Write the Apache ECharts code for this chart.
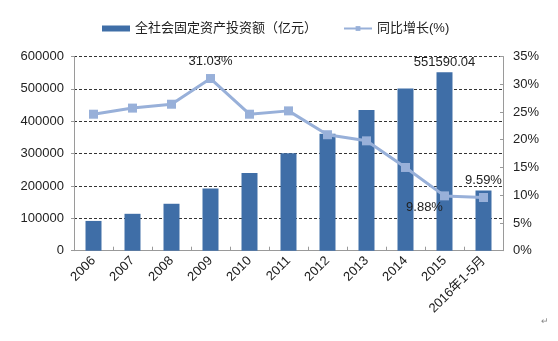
<!DOCTYPE html>
<html>
<head>
<meta charset="utf-8">
<script src="https://cdn.jsdelivr.net/npm/echarts@6/dist/echarts.min.js"></script>
<style>
  html, body { margin: 0; padding: 0; background: #fff; }
  #chart { width: 558px; height: 341px; }
</style>
</head>
<body>
<div id="chart"></div>
<script>
// Categories and series values
const categories = ['2006', '2007', '2008', '2009', '2010', '2011', '2012', '2013', '2014', '2015', '2016年1-5月'];
const investment = [92000, 114000, 145000, 192000, 240000, 301000, 361000, 435000, 501000, 551590.04, 186000];
const growth = [24.6, 25.7, 26.4, 31.03, 24.6, 25.2, 20.9, 19.8, 15.0, 9.88, 9.59];
const leftTicks = [0, 100000, 200000, 300000, 400000, 500000, 600000];
const rightTicks = [0, 5, 10, 15, 20, 25, 30, 35];

// Which points carry a value label, and where
const barLabelIdx = [9];
const lineLabelPos = { 3: 'top', 9: 'bottomLeft', 10: 'top' };

const font = 'Arial, "Liberation Sans", "Noto Sans CJK SC", sans-serif';
const chart = echarts.init(document.getElementById('chart'));

chart.setOption({
  animation: false,
  legend: {
    top: 17,
    left: 97,
    itemGap: 26,
    itemWidth: 28,
    itemHeight: 6,
    textStyle: { fontFamily: font, fontSize: 13, color: '#222' },
    data: [
      { name: '全社会固定资产投资额（亿元）', icon: 'rect' },
      { name: '同比增长(%)' }
    ]
  },
  grid: { left: 74, right: 55, top: 56.5, bottom: 90.3 },
  xAxis: {
    type: 'category',
    data: categories,
    axisLine: { lineStyle: { color: '#9a9a9a', width: 1 } },
    axisTick: { show: true, inside: true, length: 4, lineStyle: { color: '#9a9a9a' } },
    axisLabel: { rotate: 45, fontFamily: font, fontSize: 13, color: '#1a1a1a', margin: 8 }
  },
  yAxis: [
    {
      type: 'value',
      min: 0, max: leftTicks[leftTicks.length - 1], interval: 100000,
      axisLine: { show: true, lineStyle: { color: '#9a9a9a' } },
      axisTick: { show: true, length: 3, lineStyle: { color: '#9a9a9a' } },
      axisLabel: { formatter: v => String(v), fontFamily: font, fontSize: 13, color: '#222', margin: 10 },
      splitLine: { show: true, lineStyle: { color: '#333', type: [3, 2], width: 1 } }
    },
    {
      type: 'value',
      min: 0, max: rightTicks[rightTicks.length - 1], interval: 5,
      axisLine: { show: true, lineStyle: { color: '#9a9a9a' } },
      axisTick: { show: true, inside: true, length: 3, lineStyle: { color: '#9a9a9a' } },
      axisLabel: { formatter: '{value}%', fontFamily: font, fontSize: 13, color: '#222', margin: 10 },
      splitLine: { show: false }
    }
  ],
  series: [
    {
      name: '全社会固定资产投资额（亿元）',
      type: 'bar',
      yAxisIndex: 0,
      barWidth: '41%',
      itemStyle: { color: '#3f6ea7' },
      data: investment.map((v, i) => ({
        value: v,
        label: barLabelIdx.includes(i)
          ? { show: true, position: 'top', distance: 3, formatter: '{c}', fontFamily: font, fontSize: 13, color: '#222' }
          : { show: false }
      }))
    },
    {
      name: '同比增长(%)',
      type: 'line',
      yAxisIndex: 1,
      symbol: 'rect',
      symbolSize: 9,
      itemStyle: { color: '#98b0d9' },
      lineStyle: { color: '#98b0d9', width: 3 },
      z: 5,
      data: growth.map((v, i) => {
        const pos = lineLabelPos[i];
        let label = { show: false };
        if (pos === 'top') {
          label = { show: true, position: 'top', distance: 6, formatter: v.toFixed(2) + '%', fontFamily: font, fontSize: 13, color: '#222' };
        } else if (pos === 'bottomLeft') {
          label = { show: true, position: 'bottom', distance: 1, offset: [-20, 0], formatter: v.toFixed(2) + '%', fontFamily: font, fontSize: 13, color: '#222' };
        }
        return { value: v, label };
      })
    }
  ],
  graphic: [
    { type: 'text', left: 541, top: 317, style: { text: '↵', fill: '#888', font: '9px ' + font } }
  ]
});
</script>
</body>
</html>
